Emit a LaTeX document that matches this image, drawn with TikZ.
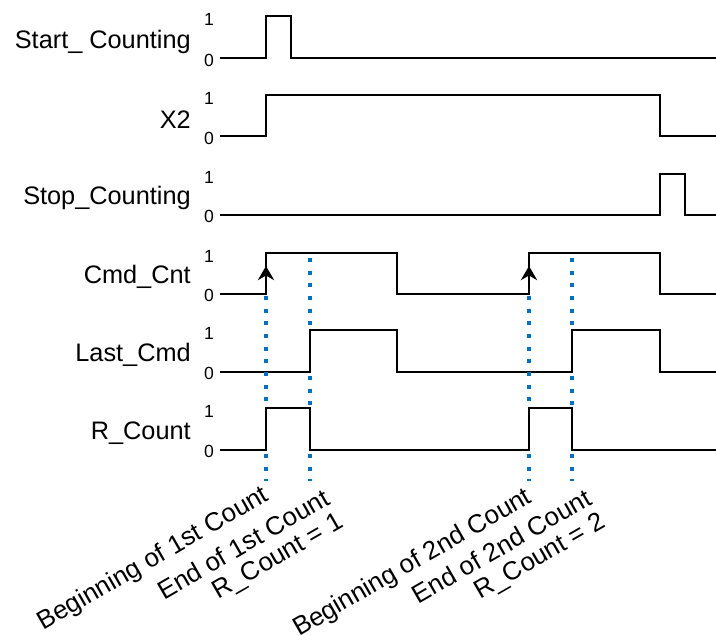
\documentclass[tikz,border=0pt]{standalone}
\usepackage{fontspec}
\setmainfont{Liberation Sans}
\usepackage{tikz}
\usetikzlibrary{arrows.meta}
\usepackage{xcolor}
\definecolor{markBlue}{RGB}{0,114,189}
\tikzset{
    sig/.style={anchor=east,inner sep=0pt,font=\fontsize{18}{21}\selectfont},
    lvl/.style={inner sep=0pt,font=\fontsize{12.5}{14}\selectfont},
    wave/.style={draw=black,line width=2pt},
    edgearr/.style={-{Stealth[length=10pt,width=11.5pt]},line width=2pt},
    marker/.style={draw=markBlue,line width=2.8pt,dash pattern=on 2.8pt off 6.2pt},
    note/.style={anchor=north east,inner sep=0pt,rotate=30,align=right,
        font=\fontsize{18.4}{19}\selectfont}
}
\begin{document}
\begin{tikzpicture}[x=0.025cm,y=-0.025cm]
    \useasboundingbox (0,0) rectangle (716,634);

    % signal names and levels
    \node[sig] (nStart) at (191, 42) {Start\_ Counting};
    \node[sig] (nXtwo)  at (191,120) {X2};
    \node[sig] (nStop)  at (191,198) {Stop\_Counting};
    \node[sig] (nCmd)   at (191,277) {Cmd\_Cnt};
    \node[sig] (nLast)  at (191,355) {Last\_Cmd};
    \node[sig] (nRcnt)  at (191,433) {R\_Count};

    \node[lvl] (hStart) at (209, 19) {1};  \node[lvl] (lStart) at (209, 60) {0};
    \node[lvl] (hXtwo)  at (209, 98) {1};  \node[lvl] (lXtwo)  at (209,138) {0};
    \node[lvl] (hStop)  at (209,177) {1};  \node[lvl] (lStop)  at (209,216) {0};
    \node[lvl] (hCmd)   at (209,256) {1};  \node[lvl] (lCmd)   at (209,295) {0};
    \node[lvl] (hLast)  at (209,333) {1};  \node[lvl] (lLast)  at (209,373) {0};
    \node[lvl] (hRcnt)  at (209,411) {1};  \node[lvl] (lRcnt)  at (209,451) {0};

    % waveforms
    \draw[wave] (220, 58) -- (266, 58) -- (266, 16) -- (291, 16) -- (291, 58) -- (716, 58);
    \draw[wave] (220,136) -- (266,136) -- (266, 95) -- (660, 95) -- (660,136) -- (716,136);
    \draw[wave] (220,215) -- (660,215) -- (660,174) -- (685,174) -- (685,215) -- (716,215);
    \draw[wave] (220,294) -- (266,294) -- (266,253) -- (397,253) -- (397,294)
        -- (529,294) -- (529,253) -- (660,253) -- (660,294) -- (716,294);
    \draw[wave] (220,372) -- (310,372) -- (310,330) -- (397,330) -- (397,372)
        -- (572,372) -- (572,330) -- (660,330) -- (660,372) -- (716,372);
    \draw[wave] (220,450) -- (266,450) -- (266,408) -- (310,408) -- (310,450)
        -- (529,450) -- (529,408) -- (572,408) -- (572,450) -- (716,450);

    \draw[edgearr] (266,294) -- (266,266);
    \draw[edgearr] (529,294) -- (529,266);

    % count markers
    \coordinate (b1) at (266,296);  \coordinate (b1bot) at (266,481);
    \coordinate (e1) at (310,258);  \coordinate (e1bot) at (310,481);
    \coordinate (b2) at (529,296);  \coordinate (b2bot) at (529,481);
    \coordinate (e2) at (572,258);  \coordinate (e2bot) at (572,481);

    \draw[marker] (b1) -- (266,405);  \draw[marker] (266,454) -- (b1bot);
    \draw[marker] (e1) -- (310,327);  \draw[marker] (310,376) -- (310,405);
    \draw[marker] (310,454) -- (e1bot);
    \draw[marker] (b2) -- (529,405);  \draw[marker] (529,454) -- (b2bot);
    \draw[marker] (e2) -- (572,327);  \draw[marker] (572,376) -- (572,405);
    \draw[marker] (572,454) -- (e2bot);

    \node[note] (tb1) at (261,483) {Beginning of 1st Count};
    \node[note] (te1) at (322,487) {End of 1st Count\\R\_Count = 1};
    \node[note] (tb2) at (524,485) {Beginning of 2nd Count};
    \node[note] (te2) at (584,487) {End of 2nd Count\\R\_Count = 2};
\end{tikzpicture}
\end{document}
